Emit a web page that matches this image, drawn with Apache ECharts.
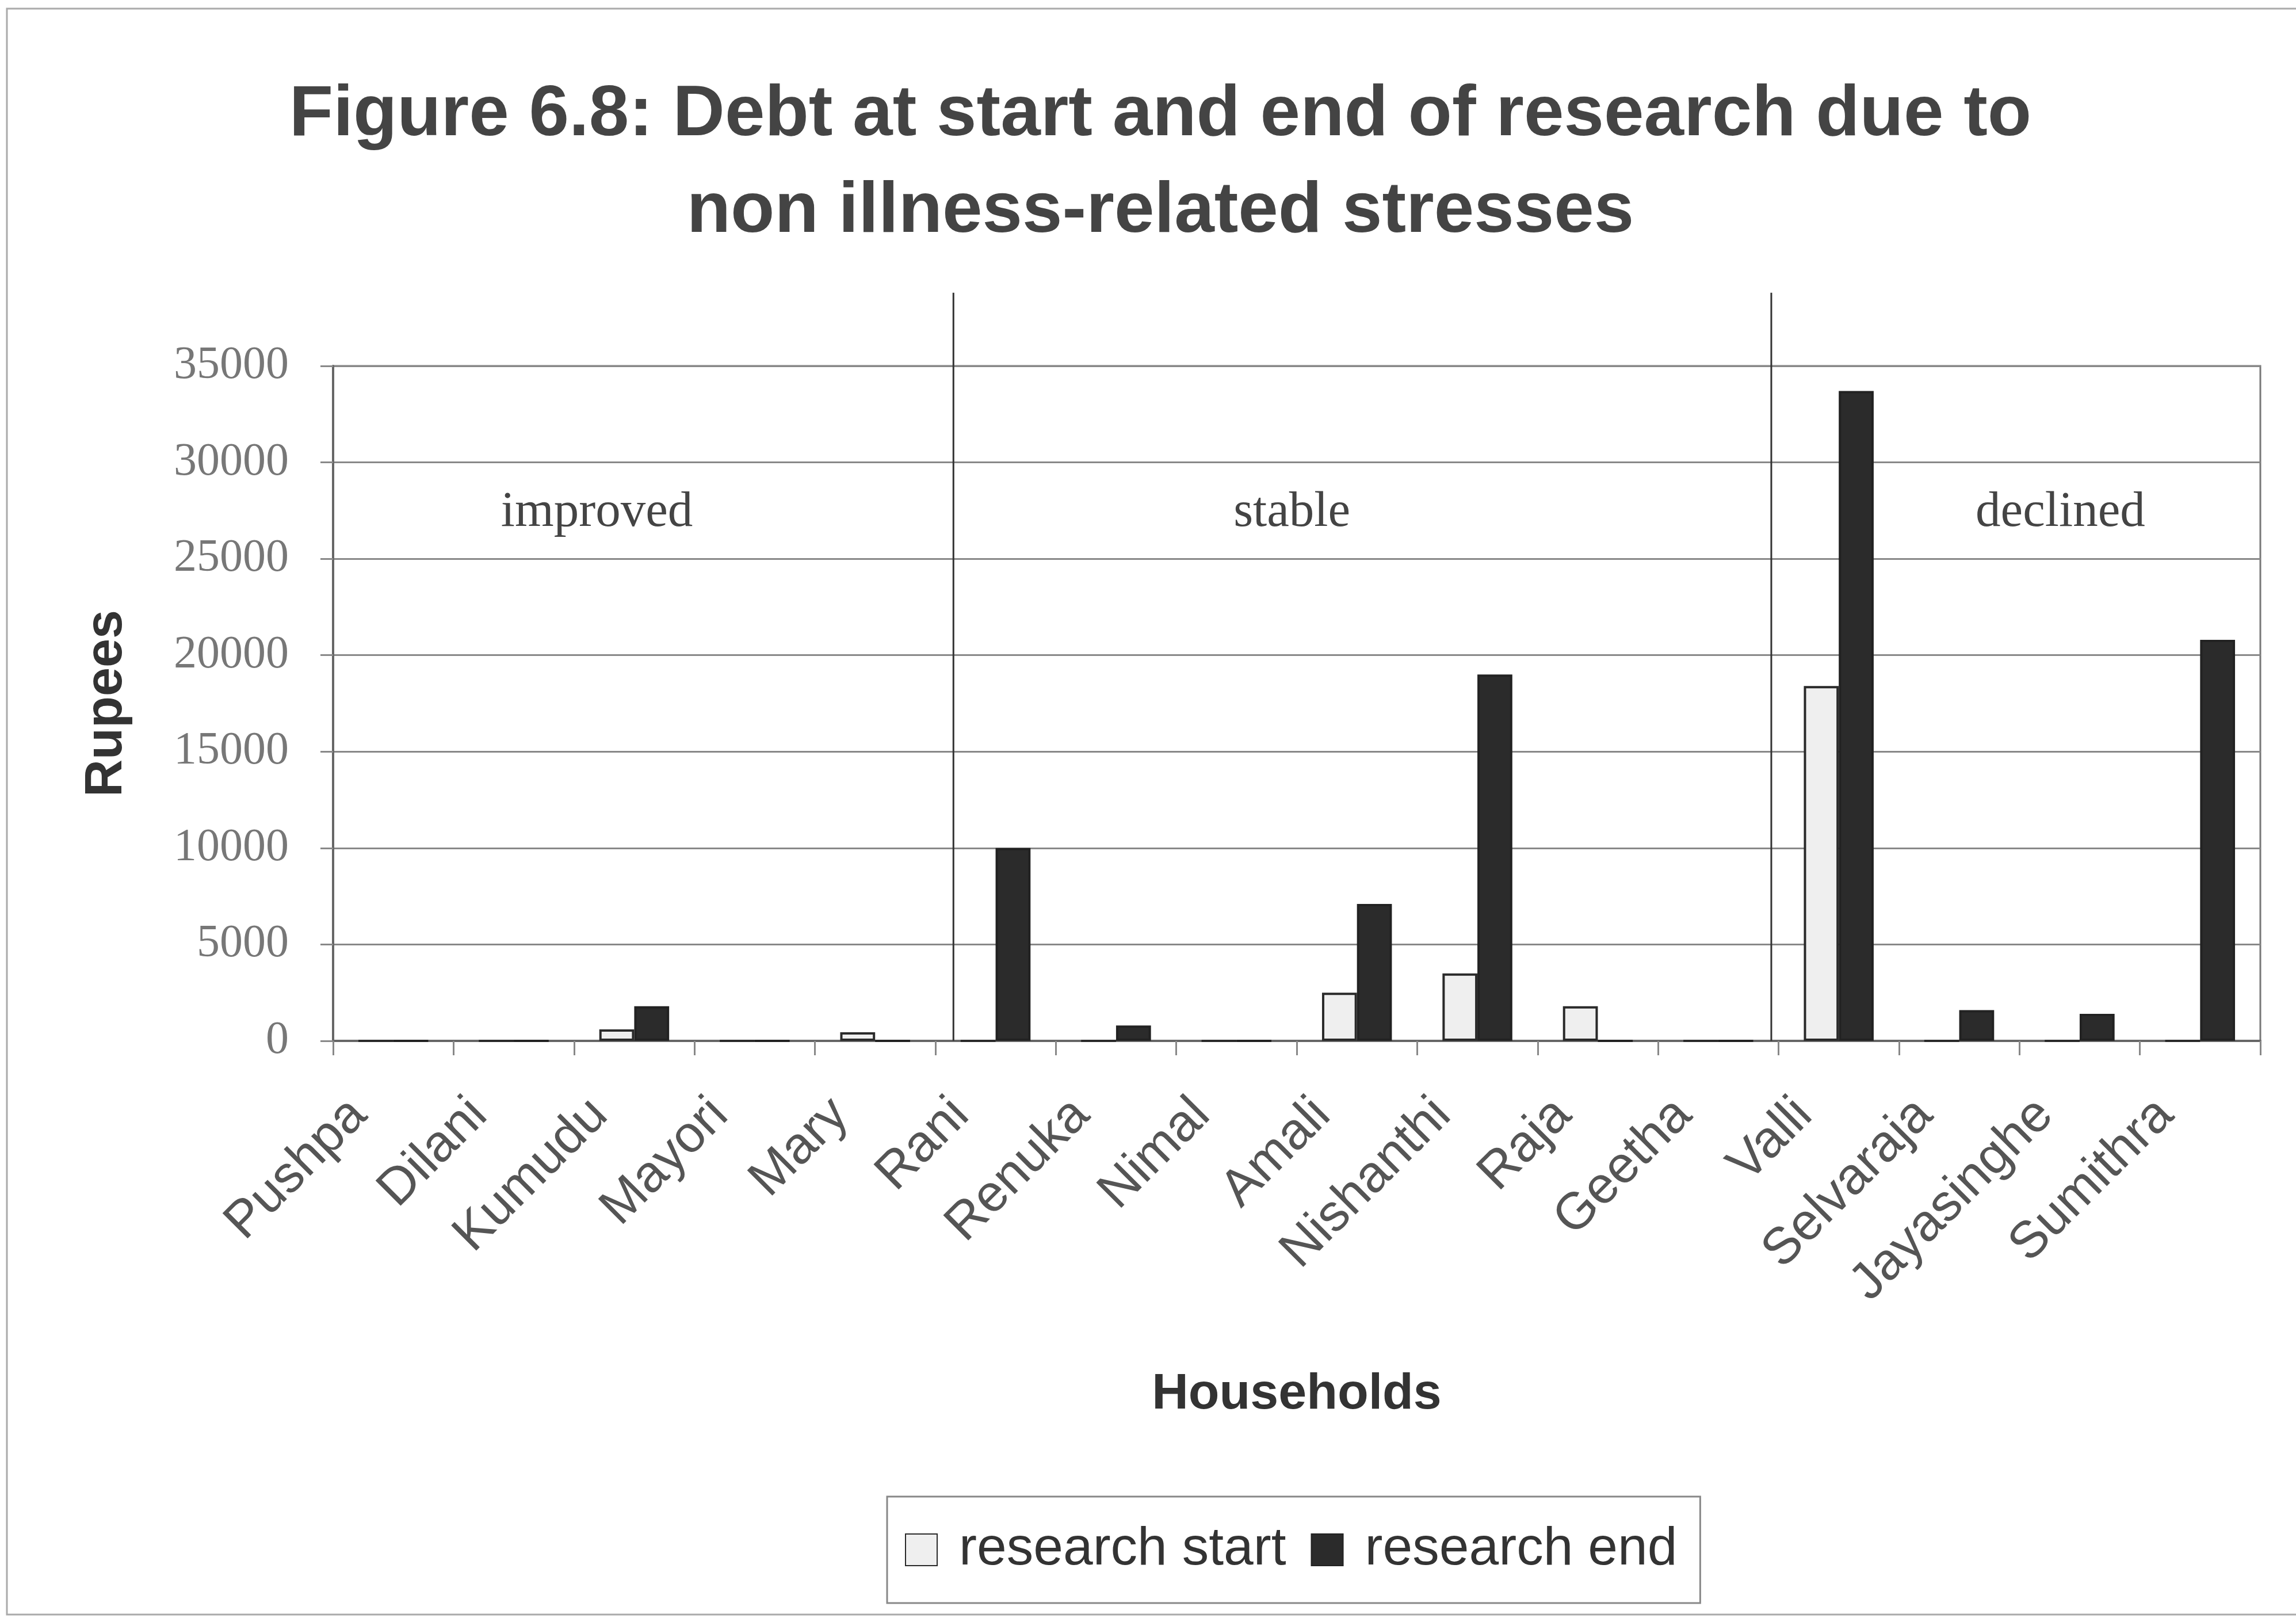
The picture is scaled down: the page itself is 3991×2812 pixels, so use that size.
<!DOCTYPE html>
<html>
<head>
<meta charset="utf-8">
<script src="https://cdn.jsdelivr.net/npm/echarts@6/dist/echarts.min.js"></script>
<style>
html,body{margin:0;padding:0;background:#fff;}
#c{width:3991px;height:2812px;}
</style>
</head>
<body>
<div id="c"></div>
<script>
// ---- data ----
const categories = ['Pushpa','Dilani','Kumudu','Mayori','Mary','Rani','Renuka','Nimal','Amali','Nishanthi','Raja','Geetha','Valli','Selvaraja','Jayasinghe','Sumithra'];
const researchStart = [0, 0, 600, 0, 450, 0, 0, 0, 2500, 3500, 1800, 0, 18400, 0, 0, 0];
const researchEnd   = [0, 0, 1800, 0, 0, 10000, 800, 0, 7100, 19000, 0, 0, 33700, 1600, 1400, 20800];
const seriesNames = ['research start', 'research end'];
const groupNames = ['improved', 'stable', 'declined'];
const yMin = 0, yMax = 35000, yStep = 5000;

// ---- layout (category-axis units / value units) ----
const separatorPos = [5.15, 11.94];
const separatorTopValue = 38800;
const groupLabelPos = [2.19, 7.96, 14.34];
const groupLabelValue = 27400;

const chart = echarts.init(document.getElementById('c'), null, {renderer: 'canvas'});
const sans = '"Liberation Sans", Arial, sans-serif';
const serif = '"Liberation Serif", "Times New Roman", serif';

chart.setOption({
  backgroundColor: '#ffffff',
  animation: false,
  title: {
    text: 'Figure 6.8: Debt at start and end of research due to\nnon illness-related stresses',
    left: 2017, top: 117, textAlign: 'center',
    padding: 0,
    textStyle: {fontFamily: sans, fontSize: 125, fontWeight: 'bold', color: '#444', lineHeight: 168}
  },
  legend: {
    data: seriesNames,
    left: 1542, top: 2601,
    padding: [46, 40, 46, 31],
    icon: 'rect',
    itemWidth: 55, itemHeight: 55, itemGap: 43,
    borderColor: '#888', borderWidth: 3,
    textStyle: {fontFamily: sans, fontSize: 93, color: '#333', padding: [0, 0, 0, 33]}
  },
  grid: {
    left: 579, top: 636, width: 3350, height: 1173,
    show: true, borderColor: '#777', borderWidth: 3, backgroundColor: 'transparent'
  },
  xAxis: [{
    type: 'category', data: categories,
    name: 'Households', nameLocation: 'middle', nameGap: 571,
    nameTextStyle: {fontFamily: sans, fontSize: 88, fontWeight: 'bold', color: '#333'},
    axisLine: {show: true, lineStyle: {color: '#666', width: 4}},
    axisTick: {show: true, length: 25, interval: 0, alignWithLabel: false, lineStyle: {color: '#888', width: 3}},
    axisLabel: {interval: 0, rotate: 45, margin: 55, padding: [0, 85, 0, 0],
      fontFamily: sans, fontSize: 90, color: '#555'}
  }, {
    type: 'value', min: 0, max: 16, show: false
  }],
  yAxis: {
    type: 'value', min: yMin, max: yMax, interval: yStep,
    name: 'Rupees', nameLocation: 'middle', nameGap: 348, nameRotate: 90,
    nameTextStyle: {fontFamily: sans, fontSize: 90, fontWeight: 'bold', color: '#333'},
    axisLine: {show: true, lineStyle: {color: '#666', width: 4}},
    axisTick: {show: true, length: 22, lineStyle: {color: '#888', width: 3}},
    axisLabel: {margin: 77, fontFamily: serif, fontSize: 80, color: '#777',
      formatter: function (v) { return String(v); }},
    splitLine: {show: true, lineStyle: {color: '#888', width: 3}}
  },
  series: [{
    name: seriesNames[0], type: 'bar', data: researchStart,
    barGap: '0%', barCategoryGap: '42%',
    itemStyle: {color: '#efefef', borderColor: '#2a2a2a', borderWidth: 4}
  }, {
    name: seriesNames[1], type: 'bar', data: researchEnd,
    barGap: '0%', barCategoryGap: '42%',
    itemStyle: {color: '#2b2b2b', borderColor: '#222', borderWidth: 4}
  }]
});

// separators and group labels positioned through the axes' scales
const graphics = [];
const yBottom = chart.convertToPixel({yAxisIndex: 0}, 0);
const yTop = chart.convertToPixel({yAxisIndex: 0}, separatorTopValue);
separatorPos.forEach(function (p) {
  const x = chart.convertToPixel({xAxisIndex: 1}, p);
  graphics.push({type: 'line', shape: {x1: x, y1: yTop, x2: x, y2: yBottom},
    style: {stroke: '#333', lineWidth: 3}, z: 50});
});
const yLab = chart.convertToPixel({yAxisIndex: 0}, groupLabelValue);
groupNames.forEach(function (g, i) {
  const x = chart.convertToPixel({xAxisIndex: 1}, groupLabelPos[i]);
  graphics.push({type: 'text', x: x, y: yLab, z: 50,
    style: {text: g, fontFamily: serif, fontSize: 87, fill: '#444', align: 'center', verticalAlign: 'middle'}});
});
graphics.push({type: 'rect', shape: {x: 12, y: 15, width: 3995, height: 2791},
  style: {fill: 'none', stroke: '#aaa', lineWidth: 3}, z: 0, silent: true});
chart.setOption({graphic: graphics});
</script>
</body>
</html>
